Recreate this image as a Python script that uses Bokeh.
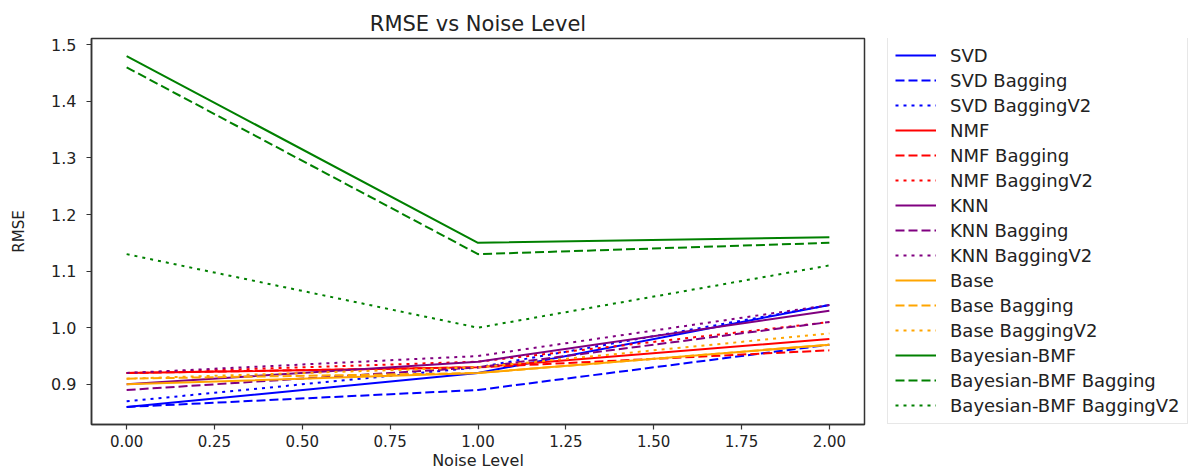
from bokeh.plotting import figure
from bokeh.layouts import row
from bokeh.models import Range1d, FixedTicker, PrintfTickFormatter
from bokeh.embed import file_html
from bokeh.resources import INLINE

# ---- data ----
noise_levels = [0.0, 1.0, 2.0]

series_names = [
    "SVD", "SVD Bagging", "SVD BaggingV2",
    "NMF", "NMF Bagging", "NMF BaggingV2",
    "KNN", "KNN Bagging", "KNN BaggingV2",
    "Base", "Base Bagging", "Base BaggingV2",
    "Bayesian-BMF", "Bayesian-BMF Bagging", "Bayesian-BMF BaggingV2",
]

svd = [0.86, 0.92, 1.04]
svd_bagging = [0.86, 0.89, 0.97]
svd_bagging_v2 = [0.87, 0.93, 1.04]
nmf = [0.92, 0.93, 0.98]
nmf_bagging = [0.92, 0.93, 0.96]
nmf_bagging_v2 = [0.92, 0.94, 1.01]
knn = [0.90, 0.94, 1.03]
knn_bagging = [0.89, 0.93, 1.01]
knn_bagging_v2 = [0.92, 0.95, 1.04]
base = [0.90, 0.92, 0.97]
base_bagging = [0.91, 0.92, 0.97]
base_bagging_v2 = [0.91, 0.93, 0.99]
bmf = [1.48, 1.15, 1.16]
bmf_bagging = [1.46, 1.13, 1.15]
bmf_bagging_v2 = [1.13, 1.00, 1.11]

series_values = [
    svd, svd_bagging, svd_bagging_v2,
    nmf, nmf_bagging, nmf_bagging_v2,
    knn, knn_bagging, knn_bagging_v2,
    base, base_bagging, base_bagging_v2,
    bmf, bmf_bagging, bmf_bagging_v2,
]

x_ticks = [0.0, 0.25, 0.5, 0.75, 1.0, 1.25, 1.5, 1.75, 2.0]
y_ticks = [0.9, 1.0, 1.1, 1.2, 1.3, 1.4, 1.5]

# ---- styles ----
family_colors = ["blue", "red", "purple", "orange", "green"]
variant_dashes = ["solid", "9 4", "3 5"]

FONT = "DejaVu Sans"
TXT = "#222222"
SPINE = "#333333"

# ---- main chart ----
p = figure(
    width=869, height=472,
    output_backend="svg", toolbar_location=None,
    x_range=Range1d(-0.1, 2.1), y_range=Range1d(0.829, 1.511),
    min_border_left=91, min_border_right=5,
    min_border_top=38, min_border_bottom=46,
    title="RMSE vs Noise Level",
)

for i, vals in enumerate(series_values):
    p.line(noise_levels, vals, line_color=family_colors[i // 3],
           line_dash=variant_dashes[i % 3], line_width=2)

p.title.text_font = FONT
p.title.text_font_size = "21px"
p.title.text_font_style = "normal"
p.title.text_color = TXT
p.title.align = "center"
p.title.offset = 0
p.title.standoff = 6

p.xgrid.visible = False
p.ygrid.visible = False
p.outline_line_color = SPINE
p.outline_line_width = 1.5
p.outline_line_alpha = 1.0

p.xaxis.ticker = FixedTicker(ticks=x_ticks)
p.yaxis.ticker = FixedTicker(ticks=y_ticks)
p.xaxis.formatter = PrintfTickFormatter(format="%.2f")
p.yaxis.formatter = PrintfTickFormatter(format="%.1f")
p.xaxis.axis_label = "Noise Level"
p.yaxis.axis_label = "RMSE"
for ax in (p.xaxis, p.yaxis):
    ax.axis_line_color = SPINE
    ax.axis_line_width = 1.5
    ax.major_tick_line_color = SPINE
    ax.major_tick_line_width = 1.2
    ax.major_tick_in = 0
    ax.major_tick_out = 5
    ax.minor_tick_line_color = None
    ax.major_label_text_font = FONT
    ax.major_label_text_color = TXT
    ax.axis_label_text_font = FONT
    ax.axis_label_text_color = TXT
    ax.axis_label_text_font_style = "normal"

p.xaxis.major_label_text_font_size = "15px"
p.xaxis.axis_label_text_font_size = "16px"
p.xaxis.major_label_standoff = 5
p.xaxis.axis_label_standoff = 1
p.yaxis.major_label_text_font_size = "16px"
p.yaxis.axis_label_text_font_size = "15px"
p.yaxis.major_label_standoff = 10
p.yaxis.axis_label_standoff = 20

# ---- legend panel (separate figure at the right; its data range is
#      off-screen so only the legend entries show) ----
pl = figure(
    width=330, height=472,
    output_backend="svg", toolbar_location=None,
    x_range=Range1d(10, 11), y_range=Range1d(10, 11),
    x_axis_type=None, y_axis_type=None,
    min_border_left=0, min_border_right=0,
    min_border_top=0, min_border_bottom=0,
)
pl.outline_line_color = None
pl.xgrid.visible = False
pl.ygrid.visible = False

for i, (name, vals) in enumerate(zip(series_names, series_values)):
    pl.line(noise_levels, vals, line_color=family_colors[i // 3],
            line_dash=variant_dashes[i % 3], line_width=2, legend_label=name)

lg = pl.legend[0]
lg.location = (18, 0)
lg.label_text_font = FONT
lg.label_text_font_size = "18px"
lg.label_text_color = TXT
lg.glyph_width = 41
lg.glyph_height = 22
lg.label_height = 22
lg.spacing = 3
lg.label_standoff = 14
lg.padding = 7
lg.margin = 0
lg.border_line_color = "#d0d0d0"
lg.border_line_width = 1
lg.background_fill_color = "white"
lg.background_fill_alpha = 1.0

layout = row(p, pl, spacing=0)
open("out.html", "w").write(file_html(layout, INLINE))
